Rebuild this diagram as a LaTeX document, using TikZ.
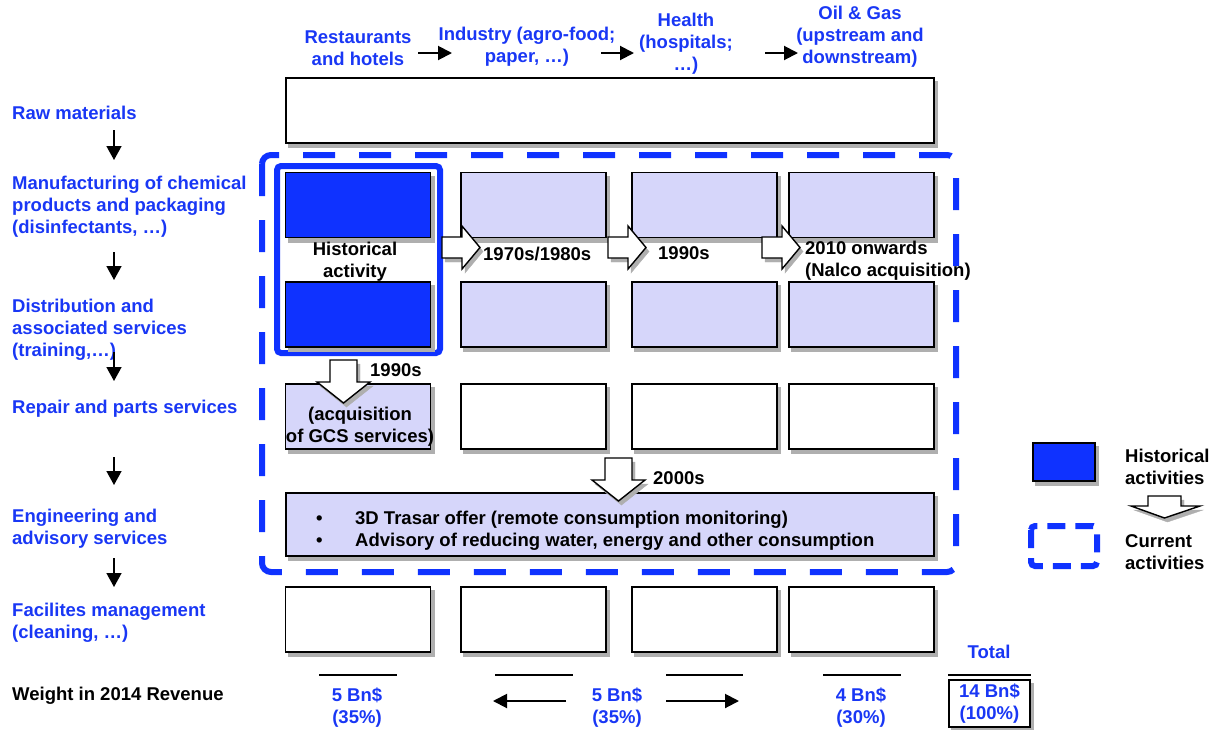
\documentclass[tikz,border=0pt]{standalone}
\usepackage{fontspec}
\setmainfont{Liberation Sans}
\usepackage{xcolor}
\usetikzlibrary{arrows.meta,shadows}

\definecolor{histblue}{RGB}{15,50,255}
\definecolor{lightblue}{RGB}{214,214,250}
\definecolor{labelblue}{RGB}{25,55,245}
\definecolor{shadowgrey}{RGB}{175,175,175}

\newcommand{\lblfont}{\fontsize{18.5}{22}\selectfont\bfseries}
% hollow block arrows (left middle / top middle of the shaft)
\newcommand{\blockright}[1]{\draw[blockarr] (#1) ++(0,-10.5) -- ++(20,0) -- ++(0,-11) -- ++(18,21.5) -- ++(-18,21.5) -- ++(0,-11) -- ++(-20,0) -- cycle;}
\newcommand{\blockdown}[1]{\draw[blockarr] (#1) ++(-13.5,0) -- ++(0,22) -- ++(-13,0) -- ++(26.5,21) -- ++(26.5,-21) -- ++(-13,0) -- ++(0,-22) -- cycle;}

\begin{document}
\begin{tikzpicture}[x=1pt,y=-1pt,
  lbl/.style={font=\lblfont,inner sep=0pt,yshift=-1.5pt},
  bluelbl/.style={lbl,text=labelblue},
  box/.style={draw=black,line width=1.8pt,drop shadow={shadow xshift=3pt,shadow yshift=-4pt,fill=shadowgrey,draw=shadowgrey,line width=2pt,opacity=1}},
  cell/.style={box,minimum width=145pt,minimum height=65pt,inner sep=0pt},
  blockarr/.style={draw=black,fill=white,line width=1.4pt,line join=miter,drop shadow={shadow xshift=3pt,shadow yshift=-4pt,fill=shadowgrey,draw=shadowgrey,opacity=1}},
  thinarr/.style={line width=1.6pt,-{Triangle[length=14pt,width=15pt]}},
  toparr/.style={line width=2pt,-{Triangle[length=14pt,width=14pt]}}]
\useasboundingbox (0,0) rectangle (1232,729);

%% sectors on top
\node[bluelbl,align=center] (rest) at (358,47) {Restaurants\\and hotels};
\node[bluelbl,align=center] (indus) at (527,45) {Industry (agro-food;\\paper, …)};
\node[bluelbl,align=center] (health) at (686,42) {Health\\(hospitals;\\…)};
\node[bluelbl,align=center] (oil) at (860,35.5) {Oil \& Gas\\(upstream and\\downstream)};
\coordinate (t1s) at (418,53); \coordinate (t1e) at (452,53);
\coordinate (t2s) at (601,53); \coordinate (t2e) at (634,53);
\coordinate (t3s) at (765,53); \coordinate (t3e) at (798,53);
\draw[toparr] (t1s) -- (t1e);
\draw[toparr] (t2s) -- (t2e);
\draw[toparr] (t3s) -- (t3e);

%% value chain on the left
\node[bluelbl,anchor=west] (raw) at (12,111) {Raw materials};
\node[bluelbl,anchor=west,align=left] (manuf) at (12,205) {Manufacturing of chemical\\products and packaging\\(disinfectants, …)};
\node[bluelbl,anchor=west,align=left] (distr) at (12,328.5) {Distribution and\\associated services\\(training,…)};
\node[bluelbl,anchor=west] (repair) at (12,407) {Repair and parts services};
\node[bluelbl,anchor=west,align=left] (engin) at (12,527) {Engineering and\\advisory services};
\node[bluelbl,anchor=west,align=left] (facil) at (12,621) {Facilites management\\(cleaning, …)};
\node[lbl,anchor=west] (weight) at (12,694) {Weight in 2014 Revenue};
\foreach \i/\ya/\yb in {1/130/160,2/252/280,3/352/381,4/457/485,5/558/587}{
  \coordinate (ls\i) at (114,\ya); \coordinate (le\i) at (114,\yb);
  \draw[thinarr] (ls\i) -- (le\i);
}

%% current perimeter and historical perimeter
\draw[histblue,line width=6pt,dash pattern=on 32pt off 24pt,rounded corners=9pt] (262,155) rectangle (956,572);
\draw[histblue,line width=6pt,rounded corners=4pt] (277,166) rectangle (440,353);

%% grid
\node[box,minimum width=648pt,minimum height=65pt,fill=white] (rawbox) at (610,110.5) {};
\node[cell,fill=histblue] (man1) at (358,205) {};
\node[cell,fill=histblue] (dis1) at (358,314.5) {};
\node[cell,fill=lightblue] (rep1) at (358,416.5) {};
\node[cell,fill=white] (fac1) at (358,619.5) {};
\foreach \i/\cx in {2/533.5,3/704.5,4/861.5}{
  \node[cell,fill=lightblue] (man\i) at (\cx,205) {};
  \node[cell,fill=lightblue] (dis\i) at (\cx,314.5) {};
  \node[cell,fill=white] (rep\i) at (\cx,416.5) {};
  \node[cell,fill=white] (fac\i) at (\cx,619.5) {};
}
\node[box,minimum width=648pt,minimum height=63pt,fill=lightblue] (engbox) at (610,524.5) {};

%% texts inside
\node[lbl,align=center] (histtxt) at (355,260.5) {Historical\\activity};
\node[lbl,align=center] (gcstxt) at (360,425.5) {(acquisition\\of GCS services)};
\node[lbl,anchor=west,align=left] (engtxt) at (316,529) {\makebox[39pt][l]{\textbullet}3D Trasar offer (remote consumption monitoring)\\\makebox[39pt][l]{\textbullet}Advisory of reducing water, energy and other consumption};

%% evolution arrows
\coordinate (ar1) at (442,247.5);
\coordinate (ar2) at (608,247.5);
\coordinate (ar3) at (762,247.5);
\coordinate (ad1) at (343.5,360);
\coordinate (ad2) at (618.5,458);
\blockright{ar1}
\blockright{ar2}
\blockright{ar3}
\blockdown{ad1}
\blockdown{ad2}
\node[lbl,anchor=west] (y7080) at (483,252) {1970s/1980s};
\node[lbl,anchor=west] (y90) at (658,252) {1990s};
\node[lbl,anchor=west,align=left] (y2010) at (805,259.5) {2010 onwards\\(Nalco acquisition)};
\node[lbl,anchor=west] (y90b) at (370,369) {1990s};
\node[lbl,anchor=west] (y2000) at (653,477) {2000s};

%% revenue weights
\foreach \i/\xa/\xb in {1/319/397,2/495/573,3/666/743,4/823/901,5/948/1031}{
  \coordinate (bs\i) at (\xa,675); \coordinate (be\i) at (\xb,675);
  \draw[line width=1.8pt] (bs\i) -- (be\i);
}
\node[bluelbl,align=center] (w1) at (357,706) {5 Bn\$\\(35\%)};
\node[bluelbl,align=center] (w2) at (617,706) {5 Bn\$\\(35\%)};
\node[bluelbl,align=center] (w4) at (861,706) {4 Bn\$\\(30\%)};
\node[bluelbl] (total) at (989,650) {Total};
\node[bluelbl,align=center,box,fill=white,minimum width=81pt,minimum height=47pt,yshift=1.5pt] (wtot) at (989.5,703.5) {14 Bn\$\\(100\%)};
\coordinate (wls) at (566,701); \coordinate (wl) at (493,701);
\coordinate (wrs) at (666,701); \coordinate (wr) at (739,701);
\draw[toparr] (wls) -- (wl);
\draw[toparr] (wrs) -- (wr);

%% legend
\node[box,fill=histblue,minimum width=62pt,minimum height=38pt] (leghist) at (1064,462) {};
\node[lbl,anchor=west,align=left] (leghtxt) at (1125,465.5) {Historical\\activities};
\draw[blockarr] (1148,496) -- (1181,496) -- (1181,506) -- (1200,506) -- (1164.5,518) -- (1131,506) -- (1148,506) -- cycle;
\draw[histblue,line width=6pt,dash pattern=on 18pt off 10pt,rounded corners=4pt] (1031,526) rectangle (1097,566);
\node[lbl,anchor=west,align=left] (legctxt) at (1125,550.5) {Current\\activities};

\end{tikzpicture}
\end{document}
